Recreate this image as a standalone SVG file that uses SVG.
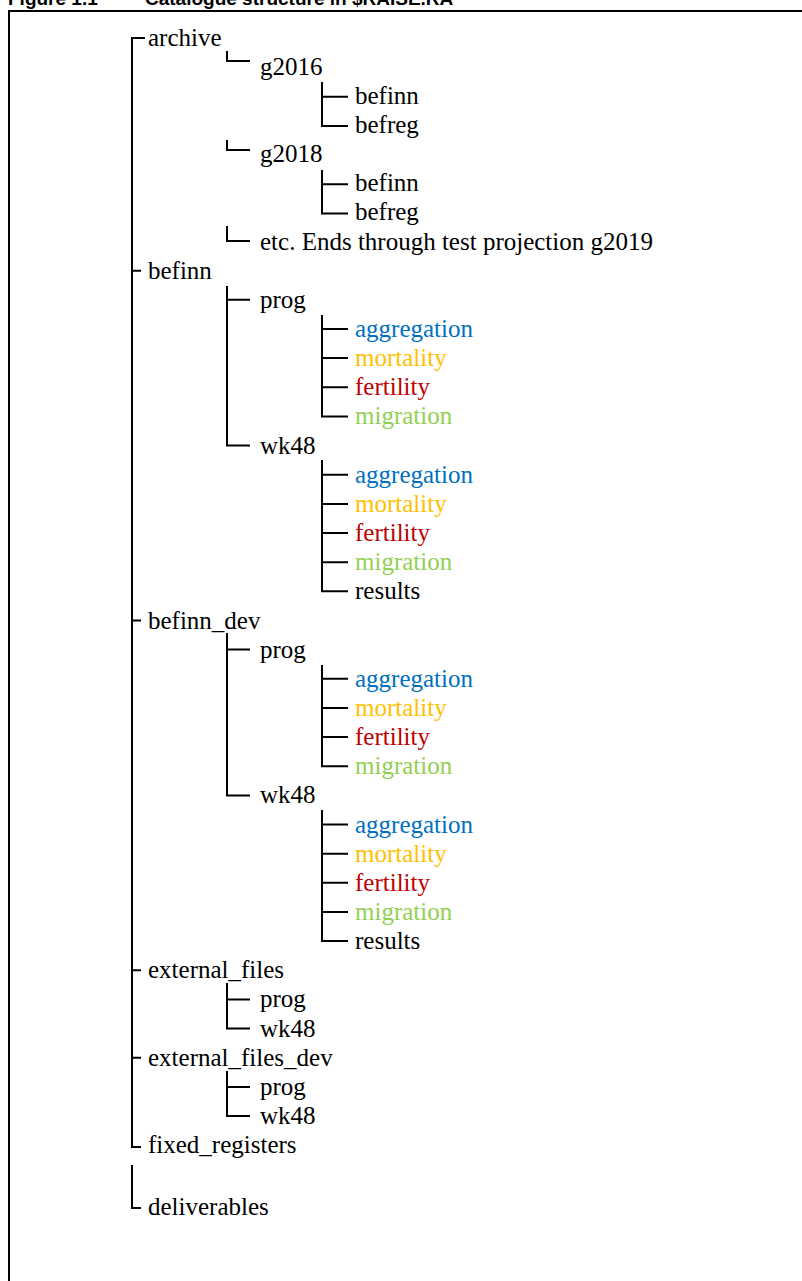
<svg xmlns="http://www.w3.org/2000/svg" width="802" height="1281" viewBox="0 0 802 1281">
<style>
.t{font-family:"Liberation Serif","Times New Roman",serif;font-size:25px;fill:#000}
.agg{fill:#0070C0}.mor{fill:#FFC000}.fer{fill:#C00000}.mig{fill:#92D050}
.title{font-family:"Liberation Sans",Arial,sans-serif;font-size:19px;font-weight:bold;fill:#000}
.c{fill:none;stroke:#000;stroke-width:2}
</style>
<rect width="802" height="1281" fill="#fff"/>
<text class="title" x="8" y="4.5">Figure 1.1</text>
<text class="title" x="145" y="4.5">Catalogue structure in $RAISE.RA</text>
<path d="M9,1281 V11 H802" fill="none" stroke="#000" stroke-width="2"/>
<g id="connectors" class="c">
<path d="M145,38 H132 V1147 H141"/>
<path d="M132,270.7 H141 M132,620.5 H141 M132,970.3 H141 M132,1057.7 H141"/>
<path d="M132,1165 V1208 H141"/>
<path d="M227,51 V61 H250"/>
<path d="M227,140 V150 H250"/>
<path d="M227,226 V241 H250"/>
<path d="M227,286 V445.6 H250 M227,299.8 H250"/>
<path d="M227,633 V795.4 H250 M227,649.6 H250"/>
<path d="M227,983 V1028.6 H250 M227,999.4 H250"/>
<path d="M227,1071 V1116 H250 M227,1086.9 H250"/>
<path d="M322,82 V126 H348 M322,96.8 H348"/>
<path d="M322,170 V213.4 H348 M322,184.2 H348"/>
<path d="M322,315 V416.4 H348 M322,329 H348 M322,358.1 H348 M322,387.3 H348"/>
<path d="M322,460 V591.3 H348 M322,474.7 H348 M322,503.9 H348 M322,533 H348 M322,562.2 H348"/>
<path d="M322,665 V766.2 H348 M322,678.8 H348 M322,707.9 H348 M322,737.1 H348"/>
<path d="M322,810 V941.1 H348 M322,824.5 H348 M322,853.7 H348 M322,882.8 H348 M322,912 H348"/>
</g>
<g id="archive"><text class="t" x="148" y="45.5">archive</text></g>
<g id="archive-g2016"><text class="t" x="260" y="74.6">g2016</text></g>
<g id="g2016-befinn"><text class="t" x="355" y="103.8">befinn</text></g>
<g id="g2016-befreg"><text class="t" x="355" y="133">befreg</text></g>
<g id="archive-g2018"><text class="t" x="260" y="162.1">g2018</text></g>
<g id="g2018-befinn"><text class="t" x="355" y="191.2">befinn</text></g>
<g id="g2018-befreg"><text class="t" x="355" y="220.4">befreg</text></g>
<g id="archive-etc"><text class="t" x="260" y="249.5">etc. Ends through test projection g2019</text></g>
<g id="befinn"><text class="t" x="148" y="278.7">befinn</text></g>
<g id="befinn-prog"><text class="t" x="260" y="307.8">prog</text></g>
<g id="befinn-prog-aggregation"><text class="t agg" x="355" y="337">aggregation</text></g>
<g id="befinn-prog-mortality"><text class="t mor" x="355" y="366.1">mortality</text></g>
<g id="befinn-prog-fertility"><text class="t fer" x="355" y="395.3">fertility</text></g>
<g id="befinn-prog-migration"><text class="t mig" x="355" y="424.4">migration</text></g>
<g id="befinn-wk48"><text class="t" x="260" y="453.6">wk48</text></g>
<g id="befinn-wk48-aggregation"><text class="t agg" x="355" y="482.7">aggregation</text></g>
<g id="befinn-wk48-mortality"><text class="t mor" x="355" y="511.9">mortality</text></g>
<g id="befinn-wk48-fertility"><text class="t fer" x="355" y="541">fertility</text></g>
<g id="befinn-wk48-migration"><text class="t mig" x="355" y="570.2">migration</text></g>
<g id="befinn-wk48-results"><text class="t" x="355" y="599.3">results</text></g>
<g id="befinn_dev"><text class="t" x="148" y="628.5">befinn_dev</text></g>
<g id="befinn_dev-prog"><text class="t" x="260" y="657.6">prog</text></g>
<g id="befinn_dev-prog-aggregation"><text class="t agg" x="355" y="686.8">aggregation</text></g>
<g id="befinn_dev-prog-mortality"><text class="t mor" x="355" y="715.9">mortality</text></g>
<g id="befinn_dev-prog-fertility"><text class="t fer" x="355" y="745.1">fertility</text></g>
<g id="befinn_dev-prog-migration"><text class="t mig" x="355" y="774.2">migration</text></g>
<g id="befinn_dev-wk48"><text class="t" x="260" y="803.4">wk48</text></g>
<g id="befinn_dev-wk48-aggregation"><text class="t agg" x="355" y="832.5">aggregation</text></g>
<g id="befinn_dev-wk48-mortality"><text class="t mor" x="355" y="861.7">mortality</text></g>
<g id="befinn_dev-wk48-fertility"><text class="t fer" x="355" y="890.8">fertility</text></g>
<g id="befinn_dev-wk48-migration"><text class="t mig" x="355" y="920">migration</text></g>
<g id="befinn_dev-wk48-results"><text class="t" x="355" y="949.1">results</text></g>
<g id="external_files"><text class="t" x="148" y="978.3">external_files</text></g>
<g id="external_files-prog"><text class="t" x="260" y="1007.4">prog</text></g>
<g id="external_files-wk48"><text class="t" x="260" y="1036.6">wk48</text></g>
<g id="external_files_dev"><text class="t" x="148" y="1065.7">external_files_dev</text></g>
<g id="external_files_dev-prog"><text class="t" x="260" y="1094.9">prog</text></g>
<g id="external_files_dev-wk48"><text class="t" x="260" y="1124">wk48</text></g>
<g id="fixed_registers"><text class="t" x="148" y="1153.2">fixed_registers</text></g>
<g id="deliverables"><text class="t" x="148" y="1215">deliverables</text></g>
</svg>
